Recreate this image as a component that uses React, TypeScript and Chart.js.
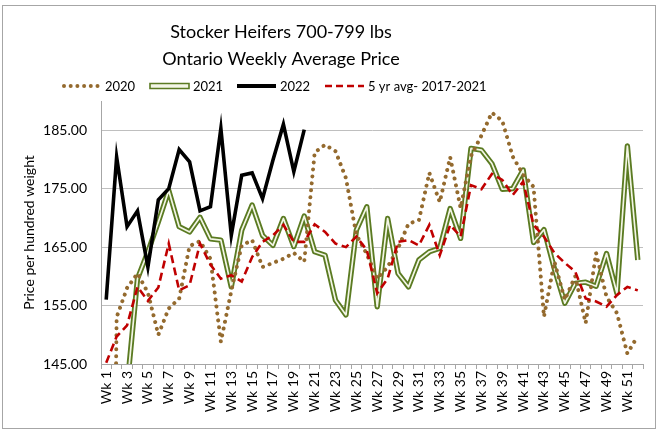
import React, { useEffect, useRef } from 'react';
import { Chart, registerables } from 'chart.js';

Chart.register(...registerables);

const FONT = 'Lato, "Open Sans", sans-serif';

const titleLines = ['Stocker Heifers 700-799 lbs', 'Ontario Weekly Average Price'];
const yAxisTitle = 'Price per hundred weight';

const weeks: string[] = Array.from({ length: 52 }, (_, i) => `Wk ${i + 1}`);
const yTicks = [145, 155, 165, 175, 185];

const y2020: (number | null)[] = [
  0, 153, 158, 160.5, 157.2, 150, 154.5, 156.2, 165.2, 166,
  163, 148.8, 157.5, 165.3, 166.2, 161.6, 162.3, 163, 164, 162.5,
  181.2, 182.5, 181.4, 176.8, 167.1, 163.8, 159.6, 161.6, 164.8, 169,
  169.6, 177.7, 172.7, 180.4, 171.7, 180.6, 184.1, 188, 186.6, 180.5,
  177.4, 175.3, 153.1, 162.5, 156, 160, 152, 164, 156.5, 153.7,
  146.8, 149.8,
];

const y2021: (number | null)[] = [
  null, null, 141, 159.6, 164.2, 169.3, 174.7, 168.5, 167.6, 170.1,
  166.4, 166.2, 158.2, 167.9, 172.2, 167, 165.3, 169.9, 165.1, 170.3,
  164.2, 163.6, 155.9, 153.4, 167.9, 171.9, 154.8, 169.9, 160.5, 158.2,
  162.8, 164.2, 164.8, 171.6, 166.5, 181.9, 181.6, 179.3, 174.9, 175,
  178.2, 165.8, 168, 161.3, 155.4, 158.8, 159, 158.3, 163.9, 157.1,
  182.3, 162.8,
];

const y2022: (number | null)[] = [
  156, 180.4, 168.5, 171.2, 161.6, 173.1, 175, 181.7, 179.6, 171.2,
  171.9, 185.3, 167, 177.3, 177.7, 173.3, 179.9, 186, 177.9, 185.1,
];

const avg5yr: (number | null)[] = [
  145.2, 149.7, 151.6, 158.2, 155.8, 158.1, 165.6, 157.6, 158.5, 165.6,
  162, 159.6, 160.2, 159.1, 163.3, 165.9, 167, 168.8, 165.9, 165.9,
  168.9, 167.6, 165.6, 165, 166.8, 164.5, 157.1, 159.6, 165.9, 166.2,
  165.3, 168.8, 163.6, 168.8, 166.8, 175.6, 174.9, 177.5, 176.5, 173.9,
  176.2, 168.8, 166.8, 164, 162.3, 160.8, 156.2, 155.7, 154.8, 156.8,
  158.2, 157.6,
];

const seriesNames = ['2020', '2021', '2022', '5 yr avg- 2017-2021'];

const C2020 = '#946A2E';
const C2021 = '#5B7B22';
const C2021IN = '#F3F6E6';
const C2022 = '#000000';
const CAVG = '#C00000';

const headerPlugin = {
  id: 'header',
  afterDraw(chart: any) {
    const ctx: CanvasRenderingContext2D = chart.ctx;
    ctx.save();
    ctx.fillStyle = '#000';
    ctx.textAlign = 'center';
    ctx.textBaseline = 'middle';
    ctx.font = `18px ${FONT}`;
    titleLines.forEach((t, i) => ctx.fillText(t, 281, 32 + i * 27));

    // legend
    const ly = 86;
    const starts = [62, 150, 237, 325];
    const sw = 39;
    ctx.font = `13px ${FONT}`;
    ctx.textAlign = 'left';
    starts.forEach((x0, i) => {
      ctx.save();
      if (i === 0) {
        ctx.fillStyle = C2020;
        for (let k = 0; k < 6; k++) {
          ctx.beginPath();
          ctx.arc(x0 + 2 + k * 6.7, ly, 2, 0, Math.PI * 2);
          ctx.fill();
        }
      } else if (i === 1) {
        ctx.fillStyle = C2021IN;
        ctx.strokeStyle = C2021;
        ctx.lineWidth = 1.6;
        ctx.beginPath();
        ctx.rect(x0, ly - 2.5, sw, 5);
        ctx.fill();
        ctx.stroke();
      } else if (i === 2) {
        ctx.strokeStyle = C2022;
        ctx.lineWidth = 4;
        ctx.beginPath();
        ctx.moveTo(x0, ly);
        ctx.lineTo(x0 + sw, ly);
        ctx.stroke();
      } else {
        ctx.strokeStyle = CAVG;
        ctx.lineWidth = 2.6;
        ctx.setLineDash([7, 4]);
        ctx.beginPath();
        ctx.moveTo(x0, ly);
        ctx.lineTo(x0 + sw, ly);
        ctx.stroke();
      }
      ctx.restore();
      ctx.fillStyle = '#000';
      ctx.fillText(seriesNames[i], x0 + sw + 4, ly + 1);
    });
    ctx.restore();
  },
};

export default function App() {
  const ref = useRef<HTMLCanvasElement | null>(null);

  useEffect(() => {
    if (!ref.current) return;
    const tickFont = { family: FONT, size: 14 };
    const chart = new Chart(ref.current, {
      type: 'line',
      data: {
        labels: weeks,
        datasets: [
          { label: seriesNames[2], data: y2022, borderColor: C2022, borderWidth: 3.6, order: 0 },
          { label: seriesNames[3], data: avg5yr, borderColor: CAVG, borderWidth: 2.6, borderDash: [8, 4.5], order: 1 },
          { label: seriesNames[0], data: y2020, borderColor: C2020, borderWidth: 4, borderDash: [0.01, 7], borderCapStyle: 'round', order: 2 },
          { label: seriesNames[1], data: y2021, borderColor: C2021IN, borderWidth: 1.7, borderJoinStyle: 'round', order: 3 },
          { label: seriesNames[1] + ' outline', data: y2021, borderColor: C2021, borderWidth: 5.4, borderJoinStyle: 'round', order: 4 },
        ] as any,
      },
      options: {
        responsive: false,
        animation: false,
        devicePixelRatio: 1,
        layout: { padding: { top: 101, right: 17, left: 0, bottom: 0 } },
        elements: { point: { radius: 0, hoverRadius: 0 }, line: { tension: 0, fill: false } },
        plugins: {
          legend: { display: false },
          title: { display: false },
          tooltip: { enabled: false },
        },
        scales: {
          x: {
            offset: true,
            grid: { offset: true, drawOnChartArea: false, tickLength: 5, color: '#a6a6a6' },
            border: { color: '#a6a6a6' },
            ticks: {
              autoSkip: false,
              minRotation: 90,
              maxRotation: 90,
              padding: 2,
              color: '#000',
              font: tickFont,
              callback: (_v: any, i: number) => (i % 2 === 0 ? weeks[i] : ''),
            },
            afterFit: (s: any) => { s.height = 70; },
          },
          y: {
            min: 145,
            max: 190,
            afterBuildTicks: (s: any) => { s.ticks = yTicks.map((v) => ({ value: v })); },
            grid: { color: '#bfbfbf', drawTicks: false },
            border: { color: '#a6a6a6' },
            ticks: {
              padding: 14,
              color: '#000',
              font: tickFont,
              callback: (v: any) => Number(v).toFixed(2),
            },
            title: {
              display: true,
              text: yAxisTitle,
              color: '#000',
              font: { family: FONT, size: 14 },
              padding: { top: 21, bottom: 0 },
            },
            afterFit: (s: any) => { s.width = 101; },
          },
        },
      } as any,
      plugins: [headerPlugin],
    });
    return () => chart.destroy();
  }, []);

  return (
    <div style={{ position: 'absolute', left: 0, top: 0, width: 660, height: 434, background: '#fff' }}>
      <canvas ref={ref} width={660} height={434} style={{ display: 'block' }} />
      <div
        style={{
          position: 'absolute', left: 2, top: 5, width: 654, height: 424,
          boxSizing: 'border-box', border: '1px solid #a6a6a6', pointerEvents: 'none',
        }}
      />
    </div>
  );
}
